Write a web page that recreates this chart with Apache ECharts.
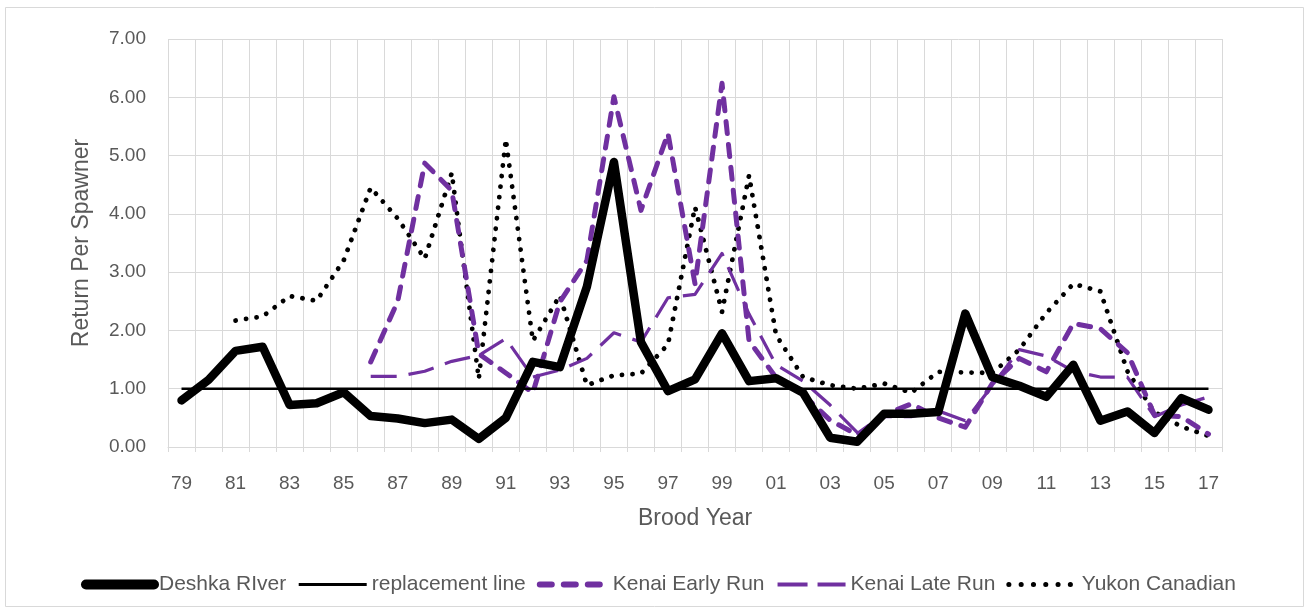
<!DOCTYPE html>
<html>
<head>
<meta charset="utf-8">
<script src="https://cdn.jsdelivr.net/npm/echarts@6/dist/echarts.min.js"></script>
<style>
html,body{margin:0;padding:0;background:#fff;}
#c{width:1311px;height:614px;}
</style>
</head>
<body>
<div id="c"></div>
<script>
const years = ['79','80','81','82','83','84','85','86','87','88','89','90','91','92','93','94','95','96','97','98','99','00','01','02','03','04','05','06','07','08','09','10','11','12','13','14','15','16','17'];
const deshka = [0.80,1.15,1.65,1.72,0.72,0.75,0.94,0.53,0.49,0.41,0.47,0.14,0.50,1.46,1.37,2.75,4.89,1.80,0.96,1.16,1.95,1.13,1.18,0.93,0.16,0.09,0.57,0.57,0.60,2.29,1.20,1.05,0.86,1.41,0.45,0.61,0.24,0.84,0.64];
const replacement = [1,1,1,1,1,1,1,1,1,1,1,1,1,1,1,1,1,1,1,1,1,1,1,1,1,1,1,1,1,1,1,1,1,1,1,1,1,1,1];
const kenaiEarly = [null,null,null,null,null,null,null,1.46,2.50,4.87,4.40,1.60,1.27,0.93,2.49,3.20,6.01,4.06,5.38,2.80,6.24,1.82,1.19,0.90,0.46,0.21,0.55,0.74,0.50,0.34,1.09,1.52,1.29,2.12,2.03,1.62,0.55,0.52,0.22];
const kenaiLate = [null,null,null,null,null,null,null,1.21,1.21,1.30,1.47,1.57,1.86,1.20,1.32,1.52,1.96,1.80,2.56,2.62,3.32,2.28,1.41,1.13,0.72,0.25,0.52,0.52,0.62,0.45,1.05,1.67,1.56,1.30,1.20,1.20,0.52,0.72,0.86];
const yukon = [null,null,2.17,2.24,2.59,2.51,3.20,4.45,3.92,3.23,4.70,1.17,5.28,1.82,2.60,1.06,1.23,1.26,1.76,4.12,2.32,4.66,1.92,1.20,1.06,1.00,1.09,0.93,1.29,1.28,1.27,1.67,2.30,2.80,2.67,1.30,0.60,0.35,0.19];
const yTicks = [0,1,2,3,4,5,6,7];
const seriesNames = ['Deshka RIver','replacement line','Kenai Early Run','Kenai Late Run','Yukon Canadian'];

const FONT = "'Liberation Sans',Arial,sans-serif";
const TXT = '#595959';
const PURPLE = '#7030A0';

const chart = echarts.init(document.getElementById('c'), null, {renderer:'canvas'});
chart.setOption({
  animation:false,
  backgroundColor:'#fff',
  textStyle:{fontFamily:FONT},
  graphic:[{type:'rect',shape:{x:5.5,y:7.5,width:1298,height:599},style:{fill:'none',stroke:'#d9d9d9',lineWidth:1},silent:true}],
  grid:{left:168,right:89,top:39,bottom:167,containLabel:false},
  legend:{
    top:569, left:76,
    itemWidth:68, itemHeight:14, itemGap:11,
    itemStyle:{color:'rgba(0,0,0,0)',borderWidth:0},
    textStyle:{color:TXT,fontSize:21,fontFamily:FONT},
    data:[
      {name:seriesNames[0],lineStyle:{width:10,cap:'round'}},
      {name:seriesNames[1],lineStyle:{width:3}},
      {name:seriesNames[2],lineStyle:{width:6,type:[12,12],cap:'round'}},
      {name:seriesNames[3],lineStyle:{width:4,type:[30,10],cap:'butt'}},
      {name:seriesNames[4],lineStyle:{width:5,type:[0.1,12.2],cap:'round'}}
    ]
  },
  xAxis:{
    type:'category', data:years, boundaryGap:true,
    name:'Brood Year', nameLocation:'middle', nameGap:60,
    nameTextStyle:{color:TXT,fontSize:23,fontFamily:FONT},
    axisLine:{show:true,lineStyle:{color:'#d9d9d9',width:1}},
    axisTick:{show:true,interval:0,length:5,lineStyle:{color:'#d9d9d9'}},
    axisLabel:{interval:1,color:TXT,fontSize:19,fontFamily:FONT,margin:27},
    splitLine:{show:true,interval:0,lineStyle:{color:'#d9d9d9',width:1}}
  },
  yAxis:{
    type:'value', min:yTicks[0], max:yTicks[yTicks.length-1], interval:1,
    name:'Return Per Spawner', nameLocation:'middle', nameGap:75,
    nameTextStyle:{color:TXT,fontSize:23,fontFamily:FONT},
    axisLine:{show:false}, axisTick:{show:false},
    axisLabel:{color:TXT,fontSize:19,fontFamily:FONT,margin:22,formatter:v=>v.toFixed(2)},
    splitLine:{show:true,lineStyle:{color:'#d9d9d9',width:1}}
  },
  series:[
    {name:seriesNames[0],type:'line',data:deshka,symbol:'none',z:5,
     lineStyle:{color:'#000',width:8.5,cap:'round',join:'round'},itemStyle:{color:'#000'}},
    {name:seriesNames[1],type:'line',data:replacement,symbol:'none',z:4,
     lineStyle:{color:'#000',width:2.5},itemStyle:{color:'#000'}},
    {name:seriesNames[2],type:'line',data:kenaiEarly,symbol:'none',z:3,
     lineStyle:{color:PURPLE,width:5,type:[12,11],cap:'round',join:'round'},itemStyle:{color:PURPLE}},
    {name:seriesNames[3],type:'line',data:kenaiLate,symbol:'none',z:3,
     lineStyle:{color:PURPLE,width:3.2,type:[26,12],cap:'butt',join:'round'},itemStyle:{color:PURPLE}},
    {name:seriesNames[4],type:'line',data:yukon,symbol:'none',z:2,
     lineStyle:{color:'#000',width:4.8,type:[0.1,10.5],cap:'round',join:'round'},itemStyle:{color:'#000'}}
  ]
});
</script>
</body>
</html>
